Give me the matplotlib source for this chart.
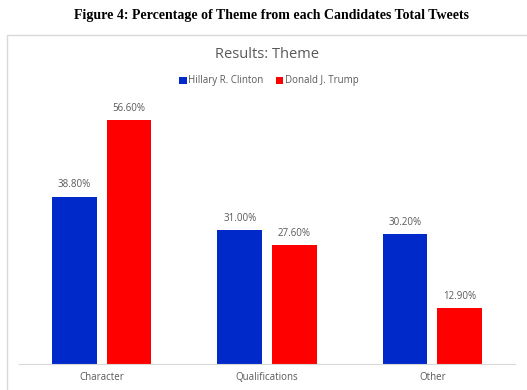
import numpy as np
import matplotlib.pyplot as plt
from matplotlib.patches import Rectangle

categories = ["Character", "Qualifications", "Other"]
clinton = [38.8, 31.0, 30.2]
trump = [56.6, 27.6, 12.9]
series_names = ["Hillary R. Clinton", "Donald J. Trump"]

W, H = 527, 390
fig = plt.figure(figsize=(W / 100, H / 100), dpi=100)

# outer chart frame (behind the axes)
fig.patches.append(Rectangle((7 / W, -0.01), 1.0, 1 - 35 / H + 0.01, transform=fig.transFigure,
                             facecolor="white", edgecolor="#d9d9d9", linewidth=1.0, zorder=-10))

ax = fig.add_axes([19 / W, 1 - 364 / H, (515 - 19) / W, (364 - 105) / H])
ax.set_zorder(5)
x = np.arange(len(categories))
bw = 0.27
off = 0.165
b1 = ax.bar(x - off, clinton, bw, color="#0029C9", label=series_names[0])
b2 = ax.bar(x + off, trump, bw, color="#FF0000", label=series_names[1])

for bars, vals in ((b1, clinton), (b2, trump)):
    for rect, v in zip(bars, vals):
        ax.text(rect.get_x() + rect.get_width() / 2, v + 1.4, f"{v:.2f}%",
                ha="center", va="bottom", fontsize=7, color="#595959", family="Open Sans")

ax.set_xlim(-0.5, 2.5)
ax.set_ylim(0, 60)
ax.set_xticks(x)
ax.set_xticklabels(categories, fontsize=7, color="#595959", family="Open Sans")
ax.tick_params(axis="x", length=0, pad=6)
ax.set_yticks([])
for s in ["top", "right", "left"]:
    ax.spines[s].set_visible(False)
ax.spines["bottom"].set_color("#d9d9d9")
ax.patch.set_alpha(0)

fig.text(272 / W, 1 - 15 / H, "Figure 4: Percentage of Theme from each Candidates Total Tweets",
         ha="center", va="center", fontsize=10, fontweight="bold", family="Liberation Serif")
fig.text(267 / W, 1 - 55 / H, "Results: Theme", ha="center", va="center",
         fontsize=10.5, color="#595959", family="Open Sans")

fig.legend(handles=[b1, b2], loc="center", bbox_to_anchor=(269 / W, 1 - 81 / H),
           ncol=2, frameon=False, handlelength=0.75, handleheight=0.75,
           handletextpad=0.15, columnspacing=1.3, labelcolor="#595959",
           prop={"family": "Open Sans", "size": 7})

fig.savefig("out.png", dpi=100)
